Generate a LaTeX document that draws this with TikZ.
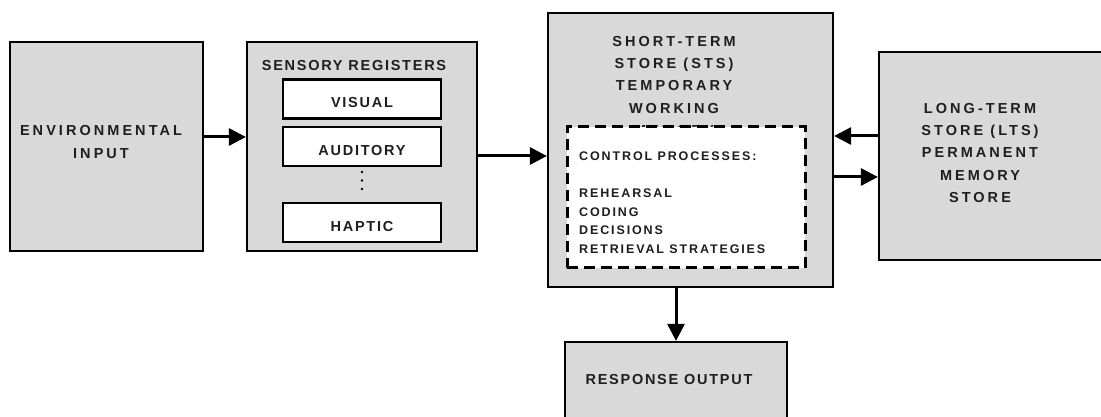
\documentclass[tikz,border=0pt]{standalone}
\usepackage{fontspec}
\newfontfamily\widefont[LetterSpace=21]{Liberation Sans}
\newfontfamily\tightfont[LetterSpace=12]{Liberation Sans}
\newfontfamily\ctrlfont[LetterSpace=15]{Liberation Sans}
\usetikzlibrary{arrows.meta}
\definecolor{boxgray}{HTML}{D9D9D9}
\definecolor{textgray}{HTML}{1E1E1E}

\begin{document}
\begin{tikzpicture}[x=1pt,y=1pt,
	box/.style={draw,line width=2.2pt,fill=boxgray,inner sep=0pt},
	inbox/.style={draw,line width=2.2pt,fill=white,inner sep=0pt,
	minimum width=158pt,minimum height=39pt,text height=18pt,text depth=0pt,
	font=\tightfont\bfseries\fontsize{14.5}{22}\selectfont,text=textgray},
	lbl/.style={align=center,inner sep=0pt,text=textgray,
	font=\widefont\bfseries\fontsize{14.5}{22.3}\selectfont},
	tlbl/.style={lbl,font=\tightfont\bfseries\fontsize{14.5}{22.3}\selectfont},
	ctrl/.style={align=left,inner sep=0pt,anchor=west,text=textgray,
	font=\ctrlfont\bfseries\fontsize{12.5}{18.7}\selectfont},
	arr/.style={line width=3pt,-{Triangle[length=17pt,width=17pt]}}]
\useasboundingbox (0,0) rectangle (1101,417);
\node[box,minimum width=193pt,minimum height=209pt] (env) at (106.5,270.5) {};
\node[lbl] (envtext) at (101,275) {ENVIRONMENTAL\\INPUT};
\node[box,minimum width=230pt,minimum height=209pt] (sens) at (362,270.5) {};
\node[tlbl] (senstitle) at (354,351) {SENSORY REGISTERS};
\node[inbox] (visual) at (362,318) {VISUAL};
\node[inbox] (auditory) at (362,270.5) {AUDITORY};
\node[inbox] (haptic) at (362,194.5) {HAPTIC};
\foreach \y in {245,236.5,228}
	\fill (362,\y) circle (1.4pt);
\node[box,minimum width=285pt,minimum height=274pt] (sts) at (690.5,267) {};
\node[lbl] (ststext) at (674,331) {SHORT-TERM\\STORE (STS)\\TEMPORARY\\WORKING\\MEMORY};
\node[draw,line width=3pt,dash pattern=on 11pt off 6pt,fill=white,
	minimum width=238pt,minimum height=141pt] (ctrlbox) at (686,219.5) {};
\node[ctrl] (ctrltext) at (579,214.5) {CONTROL PROCESSES:\\[18.7pt]REHEARSAL\\CODING\\DECISIONS\\RETRIEVAL STRATEGIES};
\node[box,minimum width=236pt,minimum height=208pt] (lts) at (997,261) {};
\node[lbl] (ltstext) at (980,264) {LONG-TERM\\STORE (LTS)\\PERMANENT\\MEMORY\\STORE};
\node[box,minimum width=222pt,minimum height=90pt] (resp) at (676,30) {};
\node[tlbl] (resptext) at (669,37) {RESPONSE OUTPUT};
\draw[arr] ([yshift=9.5pt]env.east) -- ([yshift=9.5pt]env.east -| sens.west);
\draw[arr] ([yshift=-9.5pt]sens.east) -- ([yshift=-9.5pt]sens.east -| sts.west);
\draw[arr] ([yshift=20pt]lts.west) -- ([yshift=20pt]lts.west -| sts.east);
\draw[arr] ([yshift=-21pt]lts.west -| sts.east) -- ([yshift=-21pt]lts.west);
\draw[arr] (sts.south -| resp.north) -- (resp.north);
\end{tikzpicture}
\end{document}
